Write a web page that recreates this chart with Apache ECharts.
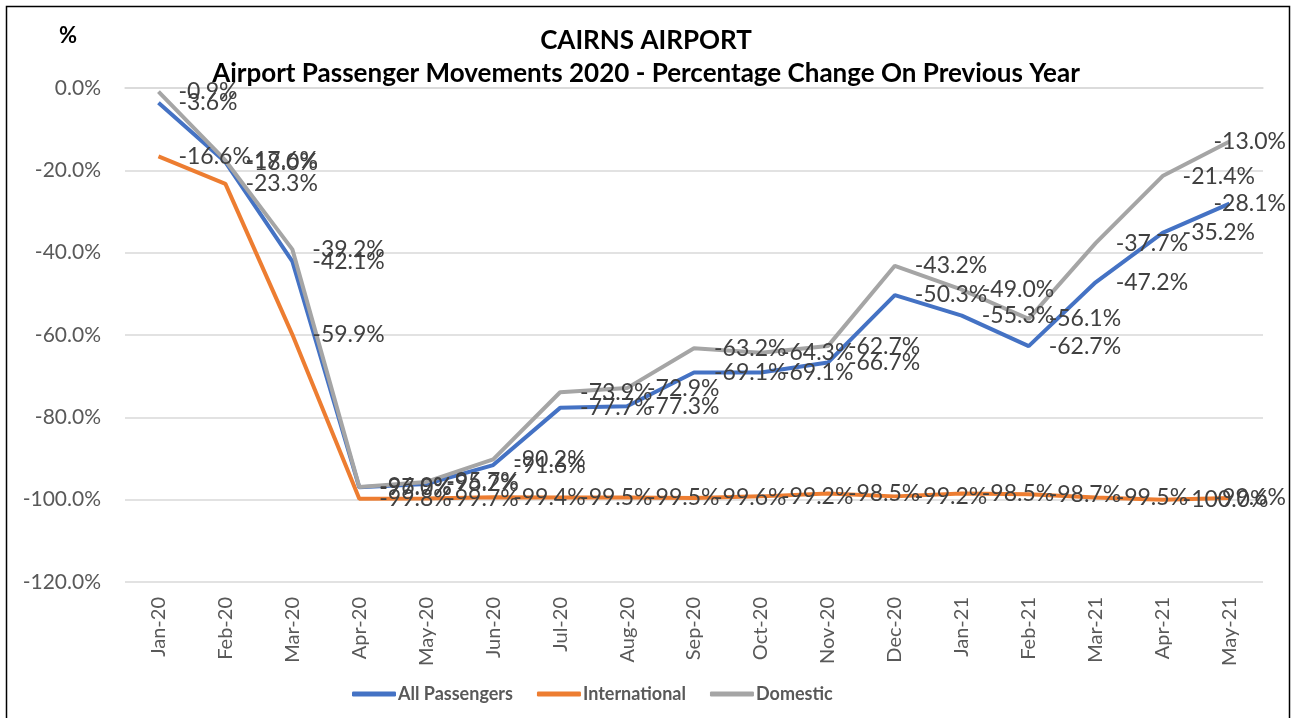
<!DOCTYPE html>
<html>
<head>
<meta charset="utf-8">
<script src="https://cdn.jsdelivr.net/npm/echarts@6/dist/echarts.min.js"></script>
<style>
  html, body { margin: 0; padding: 0; background: #fff; }
  #main { width: 1292px; height: 718px; }
</style>
</head>
<body>
<div id="main"></div>
<script>
var months = ['Jan-20', 'Feb-20', 'Mar-20', 'Apr-20', 'May-20', 'Jun-20', 'Jul-20', 'Aug-20', 'Sep-20',
    'Oct-20', 'Nov-20', 'Dec-20', 'Jan-21', 'Feb-21', 'Mar-21', 'Apr-21', 'May-21'];
var allPassengers = [-3.6, -18.0, -42.1, -97.0, -96.2, -91.6, -77.7, -77.3, -69.1, -69.1, -66.7, -50.3, -55.3, -62.7, -47.2, -35.2, -28.1];
var international = [-16.6, -23.3, -59.9, -99.8, -99.7, -99.4, -99.5, -99.5, -99.6, -99.2, -98.5, -99.2, -98.5, -98.7, -99.5, -100.0, -99.6];
var domestic = [-0.9, -17.6, -39.2, -96.9, -95.7, -90.2, -73.9, -72.9, -63.2, -64.3, -62.7, -43.2, -49.0, -56.1, -37.7, -21.4, -13.0];
var yTicks = [0, -20, -40, -60, -80, -100, -120];

var FONT = 'Lato, "Liberation Sans", sans-serif';
var colors = ['#4472C4', '#ED7D31', '#A5A5A5'];

function makeSeries(name, values) {
    return {
        name: name,
        type: 'line',
        data: values,
        symbol: 'circle',
        symbolSize: 0,
        showSymbol: true,
        lineStyle: { width: 4 },
        label: {
            show: true,
            position: 'right',
            distance: 20,
            color: '#404040',
            fontFamily: FONT,
            fontSize: 23,
            formatter: function (p) { return p.value.toFixed(1) + '%'; }
        },
        labelLayout: function (p) { // keep last labels inside the chart box
            var r = p.labelRect;
            if (r.x + r.width > 1286) {
                return {
                    x: 1286 - r.width,
                    y: r.y + r.height / 2,
                    align: 'left',
                    verticalAlign: 'middle'
                };
            }
        }
    };
}

var myChart = echarts.init(document.getElementById('main'));
var option = {
    backgroundColor: '#fff',
    animation: false,
    color: colors,
    textStyle: { fontFamily: FONT },
    graphic: [{
        type: 'rect',
        shape: { x: 6.5, y: 6.5, width: 1283, height: 730 },
        style: { fill: 'none', stroke: '#000', lineWidth: 1.5 },
        silent: true
    }, {
        type: 'text',
        left: 59, top: 25,
        style: { text: '%', font: 'bold 22px ' + FONT, fill: '#000' }
    }],
    title: {
        text: 'CAIRNS AIRPORT\nAirport Passenger Movements 2020 - Percentage Change On Previous Year',
        left: 'center',
        top: 19,
        textStyle: {
            fontFamily: FONT,
            fontSize: 26,
            fontWeight: 'bold',
            color: '#000',
            lineHeight: 33
        }
    },
    legend: {
        data: ['All Passengers', 'International', 'Domestic'],
        bottom: 10,
        left: 347,
        icon: 'roundRect',
        itemWidth: 44,
        itemHeight: 5,
        itemGap: 24,
        textStyle: { fontFamily: FONT, fontSize: 18, fontWeight: 'bold', color: '#595959', padding: [0, 0, 0, -3] }
    },
    grid: {
        left: 125,
        right: 29,
        top: 88,
        bottom: 136
    },
    xAxis: {
        type: 'category',
        data: months,
        boundaryGap: true,
        axisTick: { show: false },
        axisLine: { lineStyle: { color: '#D9D9D9', width: 1.5 } },
        axisLabel: { rotate: 90, color: '#595959', fontFamily: FONT, fontSize: 20, margin: 15 }
    },
    yAxis: {
        type: 'value',
        min: yTicks[yTicks.length - 1],
        max: yTicks[0],
        interval: 20,
        axisLine: { show: false },
        axisTick: { show: false },
        splitLine: { lineStyle: { color: '#D9D9D9', width: 1.5 } },
        axisLabel: {
            color: '#595959', fontFamily: FONT, fontSize: 21, margin: 24,
            formatter: function (v) { return v.toFixed(1) + '%'; }
        }
    },
    series: [
        makeSeries('All Passengers', allPassengers),
        makeSeries('International', international),
        makeSeries('Domestic', domestic)
    ]
};
myChart.setOption(option, true);
</script>
</body>
</html>
